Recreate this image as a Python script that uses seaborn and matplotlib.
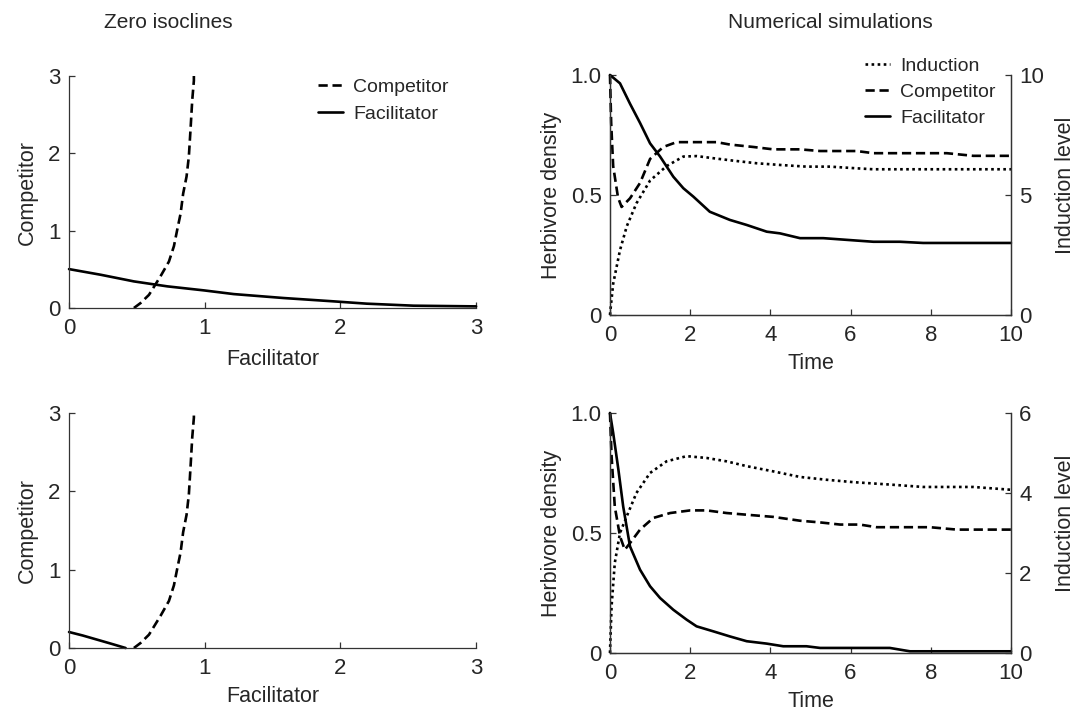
import matplotlib
matplotlib.use("Agg")
import matplotlib.pyplot as plt
import seaborn as sns

# ---- data ----
# top left: zero isoclines
comp_iso_x = [0.478, 0.527, 0.589, 0.674, 0.736, 0.773, 0.797, 0.822, 0.841, 0.866, 0.883, 0.895, 0.908, 0.920, 0.920]
comp_iso_y = [0.0, 0.064, 0.17, 0.41, 0.60, 0.80, 1.01, 1.22, 1.48, 1.70, 1.96, 2.30, 2.69, 2.94, 3.0]
fac_iso_x = [0.0, 0.233, 0.478, 0.724, 0.993, 1.214, 1.582, 1.95, 2.195, 2.539, 3.0]
fac_iso_y = [0.503, 0.43, 0.344, 0.28, 0.228, 0.18, 0.129, 0.086, 0.056, 0.03, 0.021]
# bottom left
fac_iso2_x = [0.0, 0.1, 0.2, 0.3, 0.417]
fac_iso2_y = [0.204, 0.16, 0.11, 0.06, 0.0]

# top right: numerical simulation 1
t1_fac = [0.0, 0.25, 0.5, 0.75, 1.0, 1.25, 1.58, 1.83, 2.08, 2.49, 2.99, 3.41, 3.91, 4.24, 4.74, 5.32, 6.15, 6.57, 7.23, 7.81, 10.0]
fac1 = [1.0, 0.965, 0.88, 0.80, 0.715, 0.66, 0.576, 0.528, 0.493, 0.43, 0.396, 0.375, 0.347, 0.34, 0.32, 0.32, 0.31, 0.305, 0.305, 0.30, 0.30]
t1_comp = [0.0, 0.03, 0.08, 0.2, 0.29, 0.5, 0.75, 1.0, 1.33, 1.66, 2.66, 2.99, 3.57, 4.07, 4.74, 5.24, 6.15, 6.57, 8.4, 9.06, 10.0]
comp1 = [1.0, 0.80, 0.62, 0.49, 0.45, 0.486, 0.55, 0.65, 0.70, 0.72, 0.72, 0.71, 0.70, 0.69, 0.69, 0.683, 0.683, 0.674, 0.674, 0.663, 0.663]
t1_ind = [0.0, 0.03, 0.08, 0.25, 0.42, 0.66, 1.0, 1.41, 1.83, 2.16, 2.58, 3.07, 3.66, 4.24, 4.9, 5.49, 6.15, 6.57, 10.0]
ind1 = [0.0, 0.5, 1.3, 2.7, 3.7, 4.65, 5.6, 6.2, 6.6, 6.62, 6.53, 6.43, 6.32, 6.25, 6.18, 6.18, 6.11, 6.07, 6.07]

# bottom right: numerical simulation 2
t2_fac = [0.0, 0.08, 0.21, 0.33, 0.5, 0.75, 1.0, 1.25, 1.58, 1.91, 2.16, 2.58, 2.99, 3.41, 3.91, 4.32, 4.9, 5.24, 6.98, 7.48, 10.0]
fac2 = [1.0, 0.917, 0.764, 0.61, 0.444, 0.347, 0.278, 0.229, 0.18, 0.139, 0.111, 0.09, 0.069, 0.049, 0.039, 0.028, 0.028, 0.021, 0.021, 0.007, 0.007]
t2_comp = [0.0, 0.04, 0.12, 0.25, 0.37, 0.5, 0.75, 1.08, 1.5, 2.0, 2.41, 2.91, 3.41, 4.07, 4.74, 5.24, 5.74, 6.23, 6.65, 7.98, 8.65, 10.0]
comp2 = [1.0, 0.82, 0.61, 0.486, 0.43, 0.458, 0.514, 0.5625, 0.583, 0.594, 0.594, 0.583, 0.576, 0.567, 0.551, 0.544, 0.535, 0.535, 0.524, 0.524, 0.514, 0.514]
t2_ind = [0.0, 0.04, 0.12, 0.25, 0.42, 0.66, 1.0, 1.41, 1.91, 2.41, 2.91, 3.41, 4.07, 4.74, 5.4, 6.07, 6.98, 7.81, 9.06, 10.0]
ind2 = [0.0, 1.17, 2.25, 3.0, 3.42, 4.0, 4.5, 4.79, 4.92, 4.875, 4.79, 4.67, 4.54, 4.4, 4.33, 4.27, 4.21, 4.15, 4.15, 4.08]

# ---- style ----
sns.set_theme(style="ticks")
plt.rcParams['font.family'] = ['Liberation Sans', 'DejaVu Sans']
plt.rcParams['axes.edgecolor'] = '#333333'
plt.rcParams['axes.linewidth'] = 0.9

LW = 1.9
DASH = (0, (3.5, 1.8))
DOT = (0, (1.0, 1.3))
TICK_FS = 16
LABEL_FS = 15.5
LEG_FS = 14


def style_axis(ax, right=False):
    ax.spines['top'].set_visible(False)
    ax.spines['right'].set_visible(right)
    ax.tick_params(direction='in', length=4, width=0.9, color='#333333',
                   labelsize=TICK_FS, pad=6)
    ax.tick_params(axis='x', pad=7)


def isocline_panel(ax, fac_x, fac_y, show_legend, xlab_y):
    sns.lineplot(x=comp_iso_x, y=comp_iso_y, ax=ax, color='black', lw=LW,
                 linestyle=DASH, sort=False, estimator=None, label='Competitor')
    sns.lineplot(x=fac_x, y=fac_y, ax=ax, color='black', lw=LW,
                 sort=False, estimator=None, label='Facilitator')
    ax.set_xlim(0, 3)
    ax.set_ylim(0, 3)
    ax.set_xticks([0, 1, 2, 3])
    ax.set_yticks([0, 1, 2, 3])
    ax.set_xlabel('Facilitator', fontsize=LABEL_FS)
    ax.set_ylabel('Competitor', fontsize=LABEL_FS)
    ax.xaxis.set_label_coords(0.5, xlab_y)
    ax.yaxis.set_label_coords(-0.076, 0.5)
    style_axis(ax)
    for ln in ax.lines:
        ln.set_clip_on(False)
    if show_legend:
        ax.legend(loc='upper left', bbox_to_anchor=(0.612, 0.99), frameon=False,
                  fontsize=LEG_FS, handlelength=1.3, handletextpad=0.5,
                  borderpad=0, borderaxespad=0, labelspacing=0.5)
    else:
        ax.get_legend().remove()


def simulation_panel(ax, t_ind, ind, t_comp, comp, t_fac, fac, ind_max, ind_ticks, show_legend):
    ax2 = ax.twinx()
    sns.lineplot(x=t_ind, y=ind, ax=ax2, color='black', lw=LW, linestyle=DOT,
                 sort=False, estimator=None, label='Induction')
    sns.lineplot(x=t_comp, y=comp, ax=ax, color='black', lw=LW, linestyle=DASH,
                 sort=False, estimator=None, label='Competitor')
    sns.lineplot(x=t_fac, y=fac, ax=ax, color='black', lw=LW,
                 sort=False, estimator=None, label='Facilitator')
    ax.set_xlim(0, 10)
    ax.set_ylim(0, 1)
    ax2.set_ylim(0, ind_max)
    ax.set_xticks([0, 2, 4, 6, 8, 10])
    ax.set_yticks([0, 0.5, 1.0])
    ax.set_yticklabels(['0', '0.5', '1.0'])
    ax2.set_yticks(ind_ticks)
    ax.set_xlabel('Time', fontsize=LABEL_FS)
    ax.set_ylabel('Herbivore density', fontsize=LABEL_FS)
    ax2.set_ylabel('Induction level', fontsize=LABEL_FS)
    ax.xaxis.set_label_coords(0.5, -0.158)
    ax.yaxis.set_label_coords(-0.12, 0.5)
    ax2.yaxis.set_label_coords(1.110, 0.54)
    style_axis(ax, right=True)
    ax2.spines['top'].set_visible(False)
    ax2.tick_params(direction='in', length=4, width=0.9, color='#333333',
                    labelsize=TICK_FS, pad=6)
    for a in (ax, ax2):
        for ln in a.lines:
            ln.set_clip_on(False)
    h2, l2 = ax2.get_legend_handles_labels()
    h1, l1 = ax.get_legend_handles_labels()
    ax2.get_legend().remove()
    ax.get_legend().remove()
    if show_legend:
        ax.legend(h2 + h1, l2 + l1, loc='upper left', bbox_to_anchor=(0.636, 1.075),
                  frameon=False, fontsize=LEG_FS, handlelength=1.3, handletextpad=0.5,
                  borderpad=0, borderaxespad=0, labelspacing=0.45)


fig = plt.figure(figsize=(10.84, 7.11), dpi=100)
ax_tl = fig.add_axes([0.0637, 0.5668, 0.3755, 0.3263])
ax_tr = fig.add_axes([0.5627, 0.5570, 0.3699, 0.3376])
ax_bl = fig.add_axes([0.0637, 0.0886, 0.3755, 0.3305])
ax_br = fig.add_axes([0.5627, 0.0816, 0.3699, 0.3376])

isocline_panel(ax_tl, fac_iso_x, fac_iso_y, True, -0.177)
isocline_panel(ax_bl, fac_iso2_x, fac_iso2_y, False, -0.162)
simulation_panel(ax_tr, t1_ind, ind1, t1_comp, comp1, t1_fac, fac1, 10, [0, 5, 10], True)
simulation_panel(ax_br, t2_ind, ind2, t2_comp, comp2, t2_fac, fac2, 6, [0, 2, 4, 6], False)

fig.text(0.155, 0.969, 'Zero isoclines', ha='center', va='center', fontsize=15)
fig.text(0.766, 0.969, 'Numerical simulations', ha='center', va='center', fontsize=15)

fig.savefig('out.png', dpi=100, facecolor='white')
